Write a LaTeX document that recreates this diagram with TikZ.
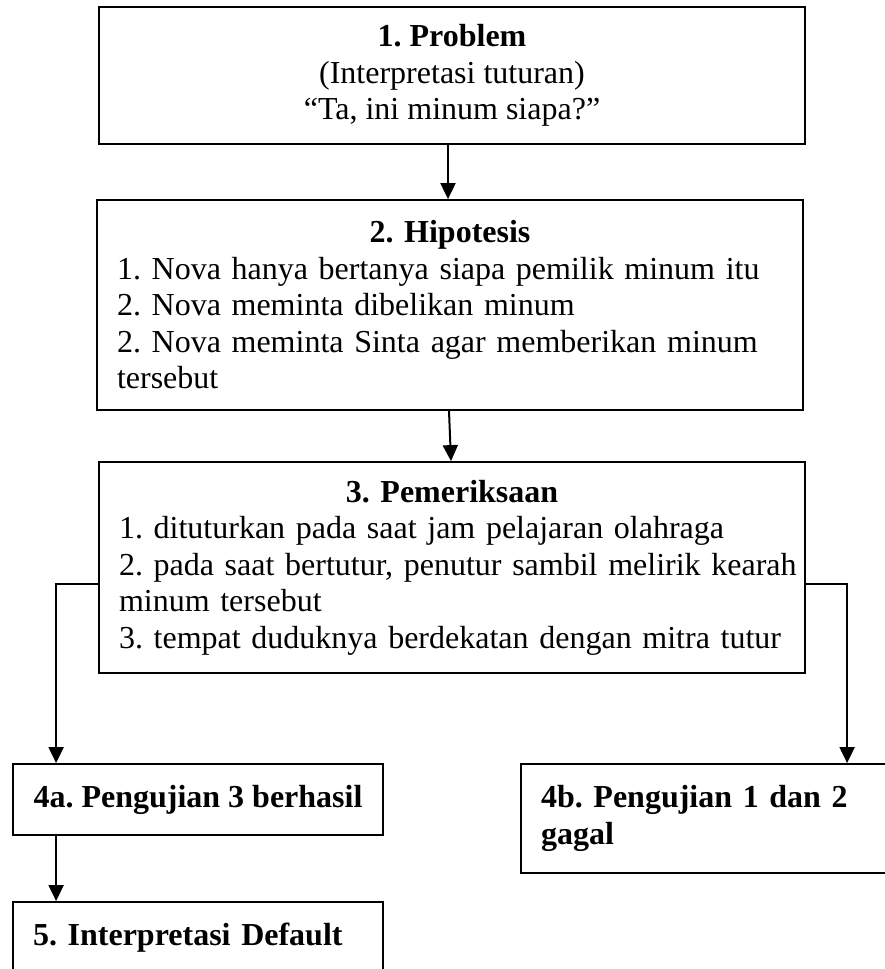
\documentclass[tikz,border=0pt]{standalone}
\usepackage{fontspec}
\setmainfont{Liberation Serif}
\usepackage{tikz}
\usetikzlibrary{arrows.meta, positioning}

\begin{document}
\begin{tikzpicture}[x=1pt, y=-1pt,
  box/.style={draw, line width=1.8pt, rectangle, inner xsep=20pt, inner ysep=0pt,
    font=\fontsize{32}{36.5}\selectfont\frenchspacing},
  arr/.style={-{Triangle[length=16pt, width=15pt]}, line width=2pt}]
  \clip (0,0) rectangle (885,969);
  % Problem
  \node[box, minimum width=706pt, minimum height=137pt, align=center] (prob) at (452,75.5)
    {\textbf{1. Problem}\\(Interpretasi tuturan)\\“Ta, ini minum siapa?”};
  % Hipotesis
  \node[box, minimum height=210pt, text width=666pt, align=left] (hipo) at (450,305)
    {{\centering\textbf{2. Hipotesis}\par}\raggedright
     \mbox{1. Nova hanya bertanya siapa pemilik minum itu}\\
     2. Nova meminta dibelikan minum\\
     \mbox{2. Nova meminta Sinta agar memberikan minum}\\
     tersebut};
  % Pemeriksaan
  \node[box, minimum height=211pt, text width=666pt, align=left] (periksa) at (452,567.5)
    {{\centering\textbf{3. Pemeriksaan}\par}\raggedright
     \mbox{1. dituturkan pada saat jam pelajaran olahraga}\\
     \mbox{2. pada saat bertutur, penutur sambil melirik kearah}\\
     minum tersebut\\
     \mbox{3. tempat duduknya berdekatan dengan mitra tutur}};
  % Pengujian
  \node[box, minimum width=370pt, minimum height=71pt] (ujiA) at (198,799.5)
    {\textbf{4a. Pengujian 3 berhasil}};
  \node[box, minimum height=109pt, text width=330pt, align=left] (ujiB) at (706,818.5)
    {\raggedright\textbf{4b. Pengujian 1 dan 2}\\\textbf{gagal}\par\vspace{10pt}};
  % Interpretasi
  \node[box, minimum height=71pt, text width=330pt, align=left] (interp) at (198,937.5)
    {\raggedright\textbf{5. Interpretasi Default}};
  % Arrows
  \draw[arr] ([xshift=-4pt]prob.south) -- ([xshift=-2pt]hipo.north);
  \draw[arr] ([xshift=-1pt]hipo.south) -- ([xshift=-1pt]periksa.north);
  \draw[arr] ([yshift=-16.5pt]periksa.west) -| ([xshift=44pt]ujiA.north west);
  \draw[arr] ([yshift=-16.5pt]periksa.east) -| ([xshift=327pt]ujiB.north west);
  \draw[arr] ([xshift=44pt]ujiA.south west) -- ([xshift=44pt]interp.north west);
\end{tikzpicture}
\end{document}
